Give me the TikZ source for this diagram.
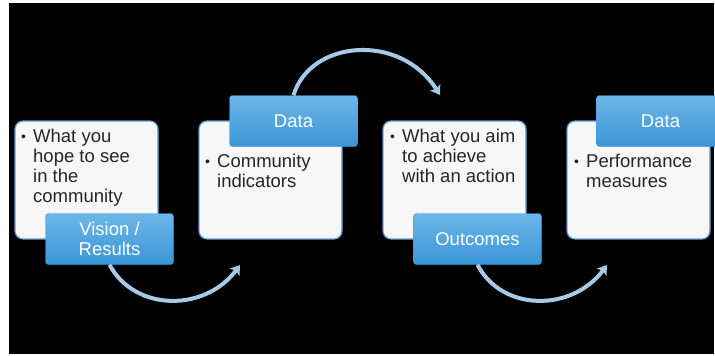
\documentclass[tikz,border=0pt]{standalone}
\usepackage{fontspec}
\setmainfont{Liberation Sans}
\usetikzlibrary{arrows.meta, positioning}

\definecolor{cardfill}{HTML}{F7F7F7}
\definecolor{cardline}{HTML}{5B9BD5}
\definecolor{tabtop}{HTML}{6DB6E8}
\definecolor{tabbottom}{HTML}{3A96D6}
\definecolor{flowblue}{HTML}{A6C9E8}
\definecolor{cardtext}{HTML}{262626}

% bullet item with hanging lines
\newcommand{\bitem}[1]{\makebox[12pt][l]{\raisebox{1pt}{\fontsize{14}{20}\selectfont\textbullet}}\begin{tabular}[t]{@{}l@{}}#1\end{tabular}}

\begin{document}
\begin{tikzpicture}[
    x=1pt, y=1pt, % one unit = one pixel of the slide
    >={Stealth[length=9pt, width=12pt, inset=2pt]}, % arrow tips of the flow arcs
    card/.style={draw=cardline, line width=1.2pt, fill=cardfill, rounded corners=8pt,
      minimum width=143pt, minimum height=118pt, inner sep=0pt, outer sep=0pt}, % white text boxes
    tab/.style={top color=tabtop, bottom color=tabbottom, draw=tabbottom, line width=0.4pt,
      rounded corners=3pt, minimum width=128pt, minimum height=51pt, inner sep=0pt,
      text=white, align=center, font=\fontsize{18.5}{20}\selectfont}, % blue label tabs
    item/.style={anchor=base west, inner sep=0pt, align=left, text=cardtext,
      font=\fontsize{18.5}{20}\selectfont}, % bullet text inside a card
    flow/.style={->, line width=4pt, flowblue} % curved arrows between cards
  ]

  % --- Slide background ---
  \useasboundingbox (0,0) rectangle (715,-356);
  \fill[white] (0,0) rectangle (715,-356);
  \fill[black] (9,-3) rectangle (714,-354);

  % --- Free ends of the arrows ---
  \coordinate (flowA) at (240,-265);
  \coordinate (flowB) at (440,-95);
  \coordinate (flowC) at (607,-265);

  % --- Cards ---
  \node[card, anchor=north west] (vision card) at (15,-121) {};
  \node[card, right=41pt of vision card] (data card) {};
  \node[card, right=41pt of data card] (outcome card) {};
  \node[card, right=41pt of outcome card] (measure card) {};

  % --- Card texts ---
  \node[item, xshift=6pt, yshift=-21pt] (vision text) at (vision card.north west)
    {\bitem{What you\\hope to see\\in the\\community}};
  \node[item, xshift=6pt, yshift=-46pt] (data text) at (data card.north west)
    {\bitem{Community\\indicators}};
  \node[item, xshift=7pt, yshift=-21pt] (outcome text) at (outcome card.north west)
    {\bitem{What you aim\\to achieve\\with an action}};
  \node[item, xshift=7pt, yshift=-46pt] (measure text) at (measure card.north west)
    {\bitem{Performance\\measures}};

  % --- Tabs ---
  \node[tab, xshift=23pt] (vision tab) at (vision card.south) {Vision /\\Results};
  \node[tab, xshift=23pt] (data tab) at (data card.north) {Data};
  \node[tab, xshift=23pt] (outcome tab) at (outcome card.south) {Outcomes};
  \node[tab, xshift=22pt] (measure tab) at (measure card.north) {Data};

  % --- Arrows ---
  \draw[flow] (vision tab.south) .. controls (135,-312) and (205,-312) .. (flowA);
  \draw[flow] (data tab.north) .. controls (310,-40) and (400,-32) .. (flowB);
  \draw[flow] (outcome tab.south) .. controls (502,-312) and (572,-312) .. (flowC);

\end{tikzpicture}
\end{document}
